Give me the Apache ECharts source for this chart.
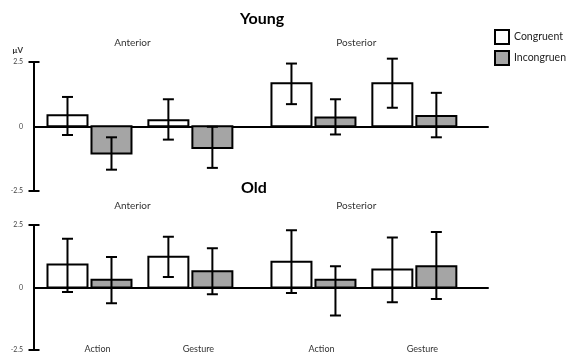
<!DOCTYPE html>
<html><head><meta charset="utf-8">
<script src="https://cdn.jsdelivr.net/npm/echarts@6/dist/echarts.min.js"></script>
<style>html,body{margin:0;padding:0;background:#fff}#c{width:566px;height:354px}</style>
</head><body><div id="c"></div>
<script>
const categories = ['Action', 'Gesture'];
const regions = ['Anterior', 'Posterior'];
const conditions = ['Congruent', 'Incongruent'];
const panels = ['Young', 'Old'];
const yUnit = 'μV';
const yTickLabels = [-2.5, 0, 2.5];
// order: Anterior-Action, Anterior-Gesture, Posterior-Action, Posterior-Gesture
const youngCongruent      = [0.43, 0.23, 1.67, 1.67];
const youngCongruentLow   = [-0.34, -0.52, 0.86, 0.72];
const youngCongruentHigh  = [1.14, 1.05, 2.44, 2.63];
const youngIncongruent     = [-1.06, -0.85, 0.34, 0.40];
const youngIncongruentLow  = [-1.69, -1.62, -0.32, -0.43];
const youngIncongruentHigh = [-0.43, -0.02, 1.05, 1.30];
const oldCongruent      = [0.92, 1.23, 1.03, 0.72];
const oldCongruentLow   = [-0.18, 0.42, -0.22, -0.59];
const oldCongruentHigh  = [1.95, 2.03, 2.29, 2.00];
const oldIncongruent     = [0.31, 0.65, 0.31, 0.85];
const oldIncongruentLow  = [-0.63, -0.27, -1.12, -0.46];
const oldIncongruentHigh = [1.22, 1.57, 0.85, 2.22];

const FONT = 'Lato';
const REGION_STEP = 2.22;
function groupPos(i) { return Math.floor(i / 2) * REGION_STEP + (i % 2); }
function regionCenter(r) { return r * REGION_STEP + 0.5; }
const LABEL_SHIFT = 0.08;
const labelPositions = [0, 1, 2, 3].map(function (i) { return groupPos(i) + LABEL_SHIFT; });

const panelData = [
  [[youngCongruent, youngCongruentLow, youngCongruentHigh], [youngIncongruent, youngIncongruentLow, youngIncongruentHigh]],
  [[oldCongruent, oldCongruentLow, oldCongruentHigh], [oldIncongruent, oldIncongruentLow, oldIncongruentHigh]]
];
const fills = ['#ffffff', '#a5a5a5'];
const offsets = [-22, 22];

function makeRender(offset, fill) {
  return function (params, api) {
    const x = api.value(0), v = api.value(1), lo = api.value(2), hi = api.value(3);
    const base = api.coord([x, 0]);
    const top = api.coord([x, v]);
    const pLo = api.coord([x, lo]);
    const pHi = api.coord([x, hi]);
    const cx = base[0] + offset;
    const half = 20, cap = 5.5;
    const y0 = Math.min(base[1], top[1]);
    const h = Math.abs(base[1] - top[1]);
    const ls = { stroke: '#000', lineWidth: 2 };
    return { type: 'group', children: [
      { type: 'rect', shape: { x: cx - half, y: y0, width: half * 2, height: h }, style: { fill: fill, stroke: '#000', lineWidth: 2 } },
      { type: 'line', shape: { x1: cx, y1: pLo[1], x2: cx, y2: pHi[1] }, style: ls },
      { type: 'line', shape: { x1: cx - cap, y1: pHi[1], x2: cx + cap, y2: pHi[1] }, style: ls },
      { type: 'line', shape: { x1: cx - cap, y1: pLo[1], x2: cx + cap, y2: pLo[1] }, style: ls }
    ]};
  };
}

const grids = [
  { left: 34, right: 78, top: 62, height: 128.5 },
  { left: 34, right: 78, top: 225, height: 128 }
];
const xAxes = [], yAxes = [], series = [];
const XMIN = -0.55, XMAX = 3.95;
grids.forEach(function (g, gi) {
  const xBase = xAxes.length;
  xAxes.push({ type: 'value', gridIndex: gi, min: XMIN, max: XMAX, position: 'bottom',
    axisLine: { show: true, onZero: true, lineStyle: { color: '#000', width: 2 } },
    axisTick: { show: false }, axisLabel: { show: false }, splitLine: { show: false } });
  xAxes.push({ type: 'value', gridIndex: gi, min: XMIN, max: XMAX, position: 'top',
    axisLine: { show: false, onZero: false }, axisTick: { show: false }, splitLine: { show: false },
    axisLabel: { show: true, customValues: regions.map(function (r, ri) { return regionCenter(ri) - 0.075; }),
      formatter: function (v) { return v < 1.5 ? regions[0] : regions[1]; },
      margin: 14, fontSize: 10, color: '#333', fontFamily: FONT } });
  xAxes.push({ type: 'value', gridIndex: gi, min: XMIN, max: XMAX, position: 'bottom',
    axisLine: { show: false, onZero: false }, axisTick: { show: false }, splitLine: { show: false },
    axisLabel: { show: gi === 1, inside: true, margin: -4,
      customValues: labelPositions,
      formatter: function (v) {
        let idx = 0;
        labelPositions.forEach(function (p, i) { if (Math.abs(p - v) < 0.01) idx = i; });
        return categories[idx % 2];
      },
      fontSize: 9, color: '#333', fontFamily: FONT } });
  const yBase = yAxes.length;
  yAxes.push({ type: 'value', gridIndex: gi, min: -2.5, max: 2.5, interval: 2.5, position: 'left',
    name: gi === 0 ? yUnit : '', nameLocation: 'end', nameGap: 8,
    nameTextStyle: { align: 'right', padding: [0, 11, 0, 0], fontWeight: 'bold', fontSize: 8, color: '#333', fontFamily: FONT },
    axisLine: { show: true, onZero: false, lineStyle: { color: '#000', width: 2 } },
    axisTick: { show: true, inside: false, length: 5.5, customValues: [-2.5, 2.5], lineStyle: { color: '#000', width: 2 } },
    axisLabel: { show: true, customValues: yTickLabels, margin: 11, fontSize: 7, color: '#444', fontFamily: FONT,
      formatter: function (v) { return String(v); } },
    splitLine: { show: false } });
  yAxes.push({ type: 'value', gridIndex: gi, min: -2.5, max: 2.5, interval: 2.5, position: 'left',
    axisLine: { show: false, onZero: false },
    axisTick: { show: true, inside: true, length: 5.5, customValues: [-2.5, 2.5], lineStyle: { color: '#000', width: 2 } },
    axisLabel: { show: false }, splitLine: { show: false } });
  panelData[gi].forEach(function (arrs, ci) {
    const vals = arrs[0], lows = arrs[1], highs = arrs[2];
    series.push({
      type: 'custom', name: conditions[ci], xAxisIndex: xBase, yAxisIndex: yBase,
      itemStyle: { color: fills[ci], borderColor: '#000', borderWidth: 2 },
      encode: { x: 0, y: 1 },
      data: vals.map(function (v, i) { return [groupPos(i), v, lows[i], highs[i]]; }),
      renderItem: makeRender(offsets[ci], fills[ci]),
      clip: false, silent: true, z: 3
    });
  });
});

const chart = echarts.init(document.getElementById('c'), null, { renderer: 'canvas' });
chart.setOption({
  animation: false,
  backgroundColor: '#fff',
  textStyle: { fontFamily: FONT },
  title: [
    { text: panels[0], left: 235, top: 6, textStyle: { fontSize: 16, fontWeight: 'bold', color: '#000', fontFamily: FONT } },
    { text: panels[1], left: 236, top: 175, textStyle: { fontSize: 16, fontWeight: 'bold', color: '#000', fontFamily: FONT } }
  ],
  legend: {
    orient: 'vertical', left: 494, top: 29, padding: 0, itemWidth: 14, itemHeight: 14, itemGap: 5, icon: 'rect',
    textStyle: { fontSize: 10.5, color: '#222', fontFamily: FONT },
    data: conditions.map(function (c, ci) { return { name: c, itemStyle: { color: fills[ci], borderColor: '#000', borderWidth: 2 } }; })
  },
  grid: grids,
  xAxis: xAxes,
  yAxis: yAxes,
  series: series
});
</script>
</body></html>
